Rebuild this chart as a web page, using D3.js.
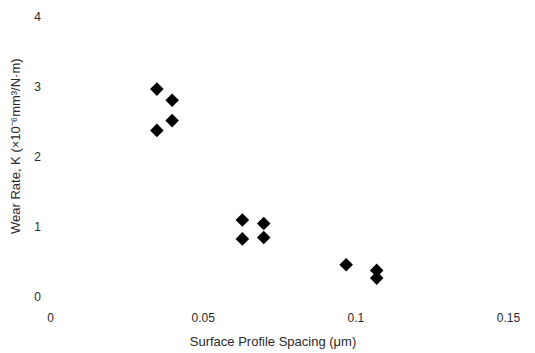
<!DOCTYPE html>
<html>
<head>
<meta charset="utf-8">
<script src="https://cdn.jsdelivr.net/npm/d3@7"></script>
<style>
  html, body { margin: 0; padding: 0; background: #fff; }
  svg { display: block; }
  text { font-family: "Liberation Sans", Arial, sans-serif; fill: #2a2a2a; }
</style>
</head>
<body>
<svg id="chart" width="535" height="353"></svg>
<script>
// Surface profile spacing (µm) and measured wear rate K
const spacing  = [0.035, 0.040, 0.040, 0.035, 0.063, 0.070, 0.063, 0.070, 0.097, 0.107, 0.107];
const wearRate = [2.97, 2.81, 2.52, 2.38, 1.10, 1.05, 0.83, 0.85, 0.46, 0.38, 0.27];

const xTicks = [0, 0.05, 0.1, 0.15];
const xTickLabels = ["0", "0.05", "0.1", "0.15"];
const yTicks = [0, 1, 2, 3, 4];

const xTitle = "Surface Profile Spacing (\u03BCm)";
const yTitle = "Wear Rate, K (\u00D710\u207B\u2076mm\u00B3/N\u00B7m)";

const svg = d3.select("#chart");

const x = d3.scaleLinear().domain([0, 0.15]).range([50, 508]);
const y = d3.scaleLinear().domain([0, 4]).range([297, 17]);

// Y axis: labels only, no line or tick marks
const yAxis = svg.append("g")
  .attr("transform", "translate(44,0)")
  .call(d3.axisLeft(y).tickValues(yTicks).tickFormat(d3.format("d")).tickSize(0).tickPadding(3));
yAxis.select(".domain").remove();
yAxis.selectAll("text").style("font-size", "12px").style("font-family", "Liberation Sans, Arial, sans-serif").attr("fill", "#2a2a2a");

// X axis: labels only
const xAxis = svg.append("g")
  .attr("transform", "translate(0,307)")
  .call(d3.axisBottom(x).tickValues(xTicks).tickFormat((d, i) => xTickLabels[i]).tickSize(0).tickPadding(6));
xAxis.select(".domain").remove();
xAxis.selectAll("text").style("font-size", "12px").style("font-family", "Liberation Sans, Arial, sans-serif").attr("fill", "#2a2a2a");

// Axis titles
svg.append("text")
  .attr("x", 273).attr("y", 346)
  .attr("text-anchor", "middle")
  .style("font-size", "13px")
  .text(xTitle);

svg.append("defs").append("clipPath").attr("id", "ytclip")
  .append("rect").attr("x", 0).attr("y", 40).attr("width", 30).attr("height", 280);

svg.append("g")
  .attr("clip-path", "url(#ytclip)")
  .append("text")
  .attr("transform", "translate(20,234) rotate(-90)")
  .attr("text-anchor", "start")
  .style("font-size", "13px")
  .text(yTitle);

// Diamond markers
const diamond = d3.symbol().type(d3.symbolSquare).size(92);
svg.append("g").selectAll("path")
  .data(spacing.map((s, i) => ({ s, k: wearRate[i] })))
  .join("path")
  .attr("d", diamond)
  .attr("transform", d => `translate(${x(d.s)},${y(d.k)}) rotate(45)`)
  .attr("fill", "#000");
</script>
</body>
</html>
